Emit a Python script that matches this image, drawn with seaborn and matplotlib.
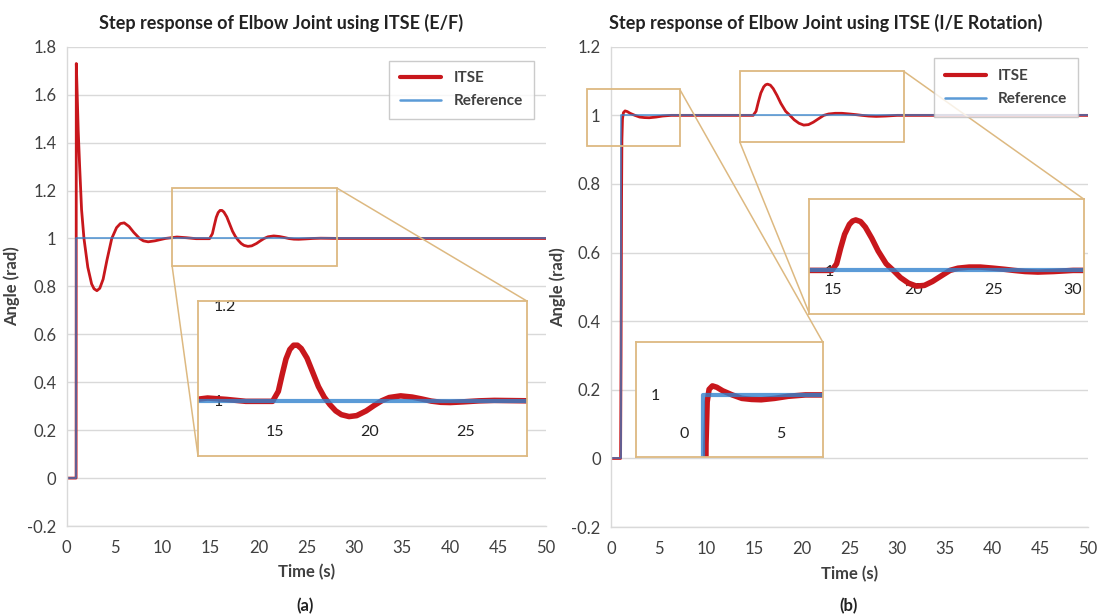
import numpy as np
import pandas as pd
import matplotlib.pyplot as plt
import seaborn as sns
from matplotlib.patches import Rectangle, ConnectionPatch
from matplotlib.ticker import MultipleLocator, FuncFormatter

# ITSE step response, E/F joint
t_ef = [0, 0.98, 1.0, 1.08, 1.2, 1.35, 1.55, 1.8, 2.2, 2.6, 2.85, 3.15, 3.45, 3.8, 4.2,
        4.7, 5.2, 5.6, 6.0, 6.5, 7.0, 7.6, 8.0, 8.5, 9.2, 10.3, 11.5, 12.5, 13.5, 14.9,
        15.2, 15.4, 15.6, 15.8, 16.0, 16.2, 16.4, 16.7, 17.0, 17.3, 17.6, 17.9, 18.2,
        18.5, 18.9, 19.3, 19.8, 20.2, 20.6, 21.0, 21.6, 22.2, 22.7, 23.2, 23.7, 24.2,
        24.9, 25.7, 26.5, 27.5, 28.5, 50.0]
y_ef = [0, 0, 1.73, 1.62, 1.45, 1.30, 1.12, 1.0, 0.88, 0.81, 0.79, 0.782, 0.792, 0.83, 0.91,
        1.0, 1.045, 1.062, 1.065, 1.05, 1.025, 1.0, 0.99, 0.986, 0.99, 1.0, 1.006, 1.003, 0.999,
        0.999, 1.02, 1.055, 1.088, 1.108, 1.117, 1.117, 1.11, 1.09, 1.06, 1.03, 1.008, 0.992,
        0.979, 0.971, 0.967, 0.969, 0.979, 0.99, 1.0, 1.007, 1.0105, 1.008, 1.004, 0.9995,
        0.997, 0.9965, 0.998, 1.0, 1.001, 1.0005, 1.0, 1.0]

# ITSE step response, I/E rotation
t_ie = [0, 1.0, 1.05, 1.1, 1.14, 1.2, 1.3, 1.47, 1.7, 2.0, 2.5, 3.0, 3.5, 4.0, 4.7, 5.4,
        6.3, 14.9, 15.2, 15.45, 15.7, 16.0, 16.2, 16.4, 16.7, 17.0, 17.4, 17.8, 18.3,
        18.75, 19.2, 19.7, 20.2, 20.7, 21.2, 21.8, 22.3, 22.8, 23.5, 24.2, 25.0, 25.7,
        26.3, 27.0, 27.8, 28.8, 30.0, 50.0]
y_ie = [0, 0, 0.3, 0.75, 0.93, 0.99, 1.008, 1.013, 1.011, 1.006, 1.0, 0.995, 0.9935, 0.993,
        0.995, 0.998, 1.0, 1.0, 1.012, 1.04, 1.065, 1.083, 1.089, 1.091, 1.088, 1.078, 1.058,
        1.035, 1.012, 1.0, 0.987, 0.977, 0.9716, 0.973, 0.98, 0.991, 1.0, 1.004, 1.006,
        1.006, 1.004, 1.002, 1.0, 0.998, 0.997, 0.998, 1.0, 1.0]

# unit step reference
t_ref = [0, 1, 1, 50]
y_ref = [0, 0, 1, 1]

titles = ['Step response of Elbow Joint using ITSE (E/F)',
          'Step response of Elbow Joint using ITSE (I/E Rotation)']
tags = ['(a)', '(b)']

RED = '#C8171C'
BLUE = '#3282CD'
TAN = '#DDB981'
GRID = '#D9D9D9'
TXT = '#404040'

sns.set_style('white')
plt.rcParams['font.family'] = ['Lato', 'DejaVu Sans']
plt.rcParams['axes.unicode_minus'] = False

fig = plt.figure(figsize=(10.99, 6.15), dpi=100)
ax_a = fig.add_axes([0.0607, 0.1447, 0.4361, 0.7793])
ax_b = fig.add_axes([0.5560, 0.1430, 0.4340, 0.7810])

fmt = FuncFormatter(lambda v, p: f'{round(v, 2) + 0.0:g}')


def draw(ax, t, y, lw_red, lw_ref, legend=True):
    sns.lineplot(x=t, y=y, ax=ax, color=RED, lw=lw_red, estimator=None, sort=False,
                 label='ITSE' if legend else None, legend=False)
    sns.lineplot(x=t_ref, y=y_ref, ax=ax, color=BLUE, alpha=0.8, lw=lw_ref,
                 estimator=None, sort=False, label='Reference' if legend else None,
                 legend=False)


def style_main(ax, ylim):
    ax.set_xlim(0, 50)
    ax.set_ylim(*ylim)
    ax.set_xticks(range(0, 51, 5))
    ax.yaxis.set_major_locator(MultipleLocator(0.2))
    ax.yaxis.set_minor_locator(MultipleLocator(0.1))
    ax.yaxis.set_major_formatter(fmt)
    ax.grid(axis='y', color=GRID, lw=1)
    ax.grid(axis='x', visible=False)
    for s in ['top', 'right']:
        ax.spines[s].set_visible(False)
    for s in ['left', 'bottom']:
        ax.spines[s].set_color(GRID)
        ax.spines[s].set_linewidth(1)
    ax.tick_params(axis='both', which='both', colors=GRID, labelcolor=TXT,
                   labelsize=12, direction='out', length=4, width=1)
    ax.tick_params(axis='y', which='minor', length=3)
    ax.tick_params(axis='x', pad=6)
    ax.set_xlabel('Time (s)', fontsize=12, fontweight='bold', color=TXT)
    ax.set_ylabel('Angle (rad)', fontsize=12, fontweight='bold', color=TXT)
    ax.xaxis.set_label_coords(0.5, -0.08)


def add_zoom(ax, t, y, src_x, src_y, box, xt, yt):
    ins = ax.inset_axes(box, transform=ax.transData)
    ins.set_facecolor('white')
    draw(ins, t, y, 4, 3, legend=False)
    ins.set_xlim(*src_x)
    ins.set_ylim(*src_y)
    ins.set_xticks(xt)
    ins.xaxis.set_minor_locator(MultipleLocator(2.5))
    ins.set_yticks(yt)
    ins.yaxis.set_major_formatter(fmt)
    ins.set_xlabel('')
    ins.set_ylabel('')
    for s in ins.spines.values():
        s.set_color(TAN)
        s.set_linewidth(1.3)
    ins.tick_params(axis='both', which='both', direction='in', colors=GRID,
                    labelcolor='#222222', labelsize=11.5, length=4, width=1)
    ins.tick_params(axis='x', pad=-22)
    ins.tick_params(axis='y', pad=-11)
    for lbl in ins.get_yticklabels():
        lbl.set_ha('left')
    ins.grid(False)
    ins.set_zorder(6)

    rect = Rectangle((src_x[0], src_y[0]), src_x[1] - src_x[0], src_y[1] - src_y[0],
                     fill=False, ec=TAN, lw=1.3, zorder=4, clip_on=False)
    ax.add_patch(rect)
    bx, by, bw, bh = box
    for (xa, ya), (xb, yb) in [((src_x[0], src_y[0]), (bx, by)),
                               ((src_x[1], src_y[1]), (bx + bw, by + bh))]:
        con = ConnectionPatch((xa, ya), (xb, yb), coordsA='data', coordsB='data',
                              axesA=ax, axesB=ax, color=TAN, lw=1.1, zorder=4)
        con.set_clip_on(False)
        ax.add_artist(con)


# panel (a)
draw(ax_a, t_ef, y_ef, 2.0, 1.2)
style_main(ax_a, (-0.2, 1.8))
ax_a.yaxis.set_label_coords(-0.0975, 0.5)
add_zoom(ax_a, t_ef, y_ef, (11.0, 28.2), (0.884, 1.21), (13.7, 0.092, 34.3, 0.647),
         [15, 20, 25], [1, 1.2])

# panel (b)
draw(ax_b, t_ie, y_ie, 2.0, 1.2)
style_main(ax_b, (-0.2, 1.2))
ax_b.yaxis.set_label_coords(-0.094, 0.5)
add_zoom(ax_b, t_ie, y_ie, (13.5, 30.7), (0.922, 1.128), (20.8, 0.422, 28.8, 0.333),
         [15, 20, 25, 30], [1])
add_zoom(ax_b, t_ie, y_ie, (-2.5, 7.2), (0.91, 1.076), (2.6, 0.003, 19.6, 0.336),
         [0, 5], [1])

for ax, anchor in [(ax_a, (0.99, 0.987)), (ax_b, (0.995, 0.992))]:
    leg = ax.legend(loc='upper right', bbox_to_anchor=anchor, frameon=True,
                    fancybox=False, edgecolor='#BFBFBF', handlelength=2.7,
                    borderpad=0.7, labelspacing=0.6, prop={'weight': 'bold', 'size': 11})
    leg.get_frame().set_linewidth(1)
    leg.get_lines()[0].set_linewidth(3)
    leg.get_lines()[1].set_linewidth(1.8)
    for txt in leg.get_texts():
        txt.set_color(TXT)

fig.text(281 / 1099, 1 - 23 / 615, titles[0], ha='center', va='center',
         fontsize=13, fontweight='bold', color='#222222')
fig.text(826 / 1099, 1 - 23 / 615, titles[1], ha='center', va='center',
         fontsize=13, fontweight='bold', color='#222222')
fig.text(305 / 1099, 1 - 606 / 615, tags[0], ha='center', va='center',
         fontsize=12, fontweight='bold', color='#222222')
fig.text(849 / 1099, 1 - 606 / 615, tags[1], ha='center', va='center',
         fontsize=12, fontweight='bold', color='#222222')

fig.savefig('out.png', dpi=100, facecolor='white')
